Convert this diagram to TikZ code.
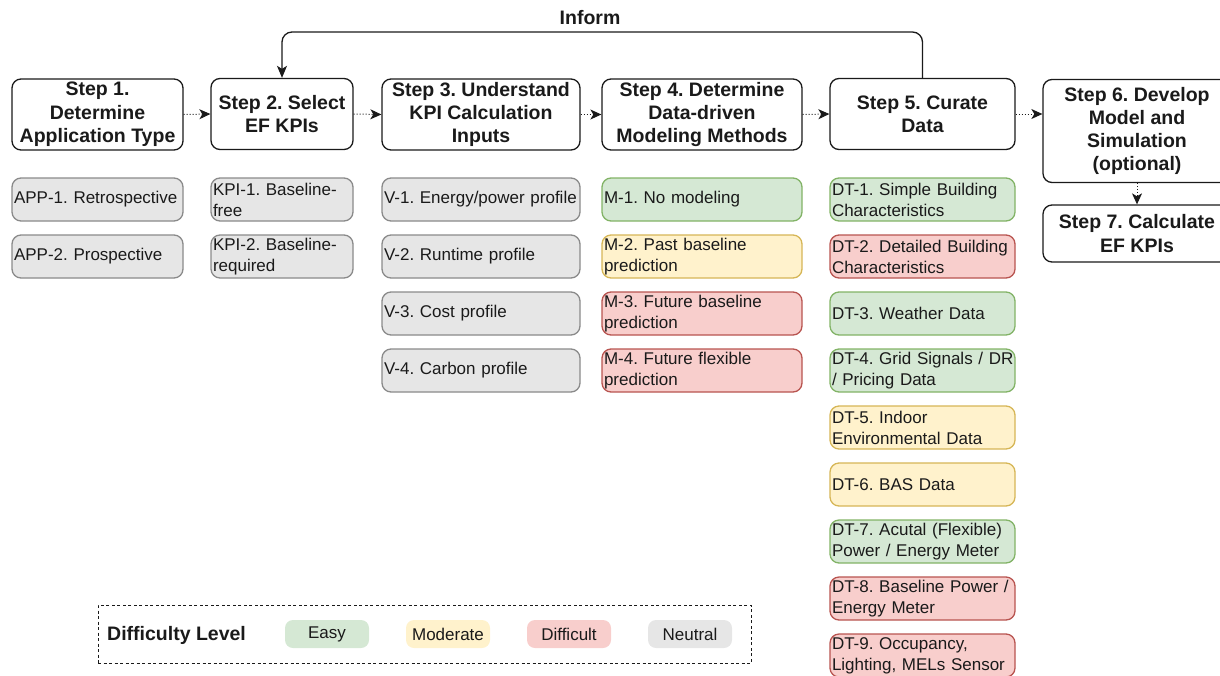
\documentclass[tikz,border=0pt]{standalone}
\usepackage{fontspec}
\setmainfont{Liberation Sans}
\usetikzlibrary{arrows.meta}
\definecolor{ink}{HTML}{1A1A1A}
\definecolor{gfill}{HTML}{D5E8D4}\definecolor{gline}{HTML}{82B366}
\definecolor{yfill}{HTML}{FFF2CC}\definecolor{yline}{HTML}{D6B656}
\definecolor{rfill}{HTML}{F8CECC}\definecolor{rline}{HTML}{B85450}
\definecolor{nfill}{HTML}{E6E6E6}\definecolor{nline}{HTML}{8A8A8A}
\tikzset{
  stepbox/.style={draw=ink, line width=1.3pt, rounded corners=9pt, fill=white, text=ink,
    align=center, font=\fontsize{19.5}{23.3}\selectfont\bfseries, inner sep=0pt},
  sbox/.style={line width=1.3pt, rounded corners=9pt, minimum height=43pt, inner xsep=2pt,
    inner ysep=0pt, align=left, text=ink, font=\fontsize{17}{21}\selectfont},
  easy/.style={sbox, fill=gfill, draw=gline},
  moder/.style={sbox, fill=yfill, draw=yline},
  diff/.style={sbox, fill=rfill, draw=rline},
  neut/.style={sbox, fill=nfill, draw=nline},
  appc/.style={text width=167pt},
  kpic/.style={text width=138pt},
  vc/.style={text width=194pt},
  mc/.style={text width=196pt},
  dtc/.style={text width=181pt},
  dotarrow/.style={draw=ink, line width=1pt, dotted, -{Stealth[length=11pt,width=10pt,inset=3pt]}},
  chip/.style={rounded corners=8pt, minimum width=84pt, minimum height=28pt, inner sep=0pt,
    text=ink, font=\fontsize{17}{20}\selectfont},
}
\begin{document}
\frenchspacing
\hyphenpenalty=10000
\begin{tikzpicture}[x=1pt,y=-1pt]
\useasboundingbox (0,0) rectangle (1220,675);
\clip (0,0) rectangle (1220,675);
% steps
\node[stepbox, minimum width=171pt, minimum height=71pt] (s1) at (97.5,114.5) {Step 1.\\Determine\\Application Type};
\node[stepbox, minimum width=142pt, minimum height=71pt] (s2) at (282,114) {Step 2. Select\\EF KPIs};
\node[stepbox, minimum width=198pt, minimum height=71pt] (s3) at (481,114.5) {Step 3. Understand\\KPI Calculation\\Inputs};
\node[stepbox, minimum width=200pt, minimum height=71pt] (s4) at (702,114.5) {Step 4. Determine\\Data-driven\\Modeling Methods};
\node[stepbox, minimum width=185pt, minimum height=71pt] (s5) at (922.5,114) {Step 5. Curate\\Data};
\node[stepbox, minimum width=188pt, minimum height=103pt] (s6) at (1137,131) {Step 6. Develop\\Model and\\Simulation\\(optional)};
\node[stepbox, minimum width=188pt, minimum height=57pt] (s7) at (1137,233.5) {Step 7. Calculate\\EF KPIs};
% connectors
\draw[dotarrow] (s1.east) -- (s2.west);
\draw[dotarrow] (s2.east) -- (s3.west);
\draw[dotarrow] (s3.east) -- (s4.west);
\draw[dotarrow] (s4.east) -- (s5.west);
\draw[dotarrow] (s5.east) -- (s5.east -| s6.west);
\draw[dotarrow] (s6.south) -- (s7.north);
\coordinate (topy) at (0,32);
\draw[draw=ink, line width=1.3pt, rounded corners=10pt, -{Stealth[length=12pt,width=10pt,inset=3pt]}]
  (s5.north) |- (topy -| s2.north) -- (s2.north);
\node[text=ink, font=\fontsize{19.5}{23}\selectfont\bfseries] (inform) at (590,17.5) {Inform};
% APP column
\node[neut, appc] (app1) at (97.5,199.5) {APP-1. Retrospective};
\node[neut, appc] (app2) at (97.5,256.5) {APP-2. Prospective};
% KPI column
\node[neut, kpic] (kpi1) at (282,199.5) {KPI-1. Baseline-\\free};
\node[neut, kpic] (kpi2) at (282,256.5) {KPI-2. Baseline-\\required};
% V column
\node[neut, vc] (v1) at (481,199.5) {V-1. Energy/power profile};
\node[neut, vc] (v2) at (481,256.5) {V-2. Runtime profile};
\node[neut, vc] (v3) at (481,313.5) {V-3. Cost profile};
\node[neut, vc] (v4) at (481,370.5) {V-4. Carbon profile};
% M column
\node[easy, mc] (m1) at (702,199.5) {M-1. No modeling};
\node[moder, mc] (m2) at (702,256.5) {M-2. Past baseline\\prediction};
\node[diff, mc] (m3) at (702,313.5) {M-3. Future baseline\\prediction};
\node[diff, mc] (m4) at (702,370.5) {M-4. Future flexible\\prediction};
% DT column
\node[easy, dtc] (dt1) at (922.5,199.5) {DT-1. Simple Building\\Characteristics};
\node[diff, dtc] (dt2) at (922.5,256.5) {DT-2. Detailed Building\\Characteristics};
\node[easy, dtc] (dt3) at (922.5,313.5) {DT-3. Weather Data};
\node[easy, dtc] (dt4) at (922.5,370.5) {\mbox{DT-4. Grid Signals / DR}\\/ Pricing Data};
\node[moder, dtc] (dt5) at (922.5,427.5) {DT-5. Indoor\\Environmental Data};
\node[moder, dtc] (dt6) at (922.5,484.5) {DT-6. BAS Data};
\node[easy, dtc] (dt7) at (922.5,541.5) {DT-7. Acutal (Flexible)\\Power / Energy Meter};
\node[diff, dtc] (dt8) at (922.5,598.5) {DT-8. Baseline Power /\\Energy Meter};
\node[diff, dtc] (dt9) at (922.5,655.5) {DT-9. Occupancy,\\Lighting, MELs Sensor};
% legend
\node[draw=ink, line width=1pt, dash pattern=on 3pt off 2.5pt, minimum width=653pt, minimum height=58pt, inner sep=0pt] (legend) at (424.5,634) {};
\node[anchor=west, text=ink, font=\fontsize{19.5}{23}\selectfont\bfseries, inner sep=0pt] (lgtitle) at (107,635) {Difficulty Level};
\node[chip, fill=gfill] (lgeasy) at (327,634) {Easy};
\node[chip, fill=yfill] (lgmod) at (448,634) {Moderate};
\node[chip, fill=rfill] (lgdiff) at (569,634) {Difficult};
\node[chip, fill=nfill] (lgneut) at (690,634) {Neutral};
\end{tikzpicture}
\end{document}
